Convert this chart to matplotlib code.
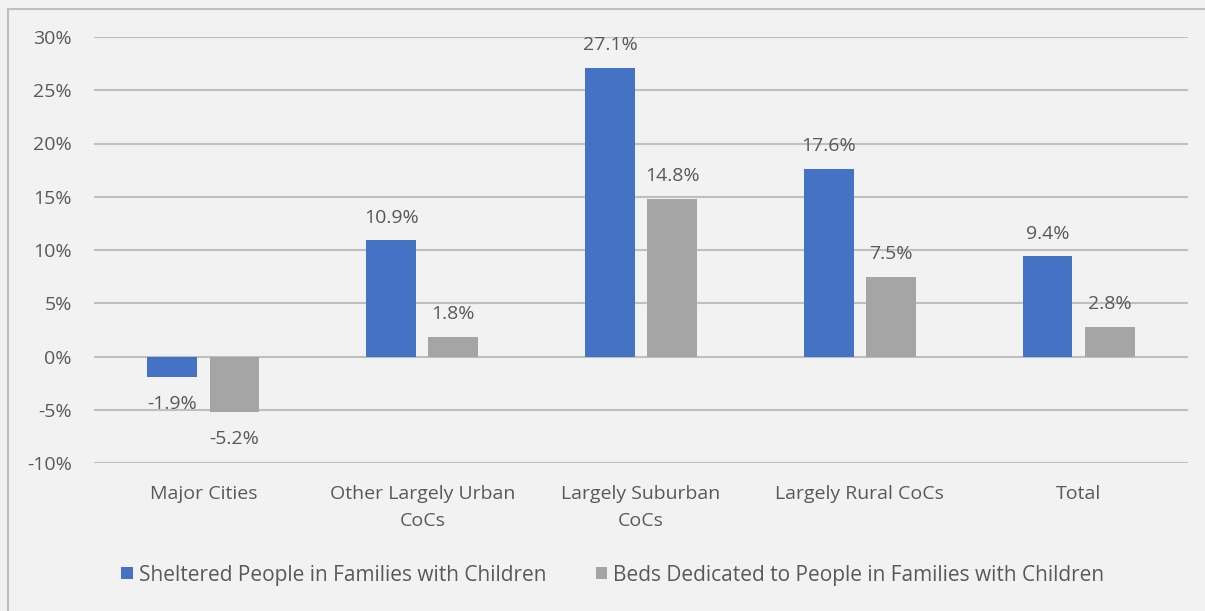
import matplotlib
matplotlib.use("Agg")
import matplotlib.pyplot as plt
import numpy as np
from matplotlib.patches import Rectangle

categories = ["Major Cities", "Other Largely Urban\nCoCs", "Largely Suburban\nCoCs", "Largely Rural CoCs", "Total"]
sheltered = [-1.9, 10.9, 27.1, 17.6, 9.4]
beds = [-5.2, 1.8, 14.8, 7.5, 2.8]
series_names = ["Sheltered People in Families with Children",
                "Beds Dedicated to People in Families with Children"]
yticks = [-10, -5, 0, 5, 10, 15, 20, 25, 30]

plt.rcParams['font.family'] = ['Open Sans', 'DejaVu Sans']
txt = '#595959'
bg = '#f2f2f2'
fs = 14

fig = plt.figure(figsize=(12.05, 6.11), dpi=100, facecolor=bg)
ax = fig.add_axes([94/1205, 1-463/611, (1188-94)/1205, (463-37)/611])
ax.set_facecolor(bg)

x = np.arange(len(categories))
w = 0.228
off = 0.142
b1 = ax.bar(x - off, sheltered, w, color='#4472C4', label=series_names[0], zorder=3)
b2 = ax.bar(x + off, beds, w, color='#A5A5A5', label=series_names[1], zorder=3)

for bars, vals in ((b1, sheltered), (b2, beds)):
    for r, v in zip(bars, vals):
        cx = r.get_x() + r.get_width()/2
        if v >= 0:
            ax.annotate(f"{v:.1f}%", (cx, v), xytext=(0, 10), textcoords='offset points',
                        ha='center', va='bottom', fontsize=fs, color=txt)
        else:
            ax.annotate(f"{v:.1f}%", (cx, v), xytext=(0, -13), textcoords='offset points',
                        ha='center', va='top', fontsize=fs, color=txt)

ax.set_xlim(-0.5, len(categories) - 0.5)
ax.set_ylim(-10, 30)
ax.set_yticks(yticks)
ax.set_yticklabels([f"{t}%" for t in yticks])
ax.set_xticks(x)
ax.set_xticklabels(categories, linespacing=1.6)
ax.tick_params(axis='both', length=0, labelsize=fs, colors=txt)
ax.tick_params(axis='y', pad=16)
ax.tick_params(axis='x', pad=16)
ax.grid(axis='y', color='#bfbfbf', linewidth=1.5, zorder=0)
for s in ax.spines.values():
    s.set_visible(False)

leg = fig.legend(handles=[b1, b2], labels=series_names, loc='center',
                 bbox_to_anchor=(613/1205, 1-575/611), ncol=2, frameon=False,
                 fontsize=15, handlelength=0.55, handleheight=0.55, handletextpad=0.3,
                 columnspacing=2.35, labelcolor=txt)

fig.patches.append(Rectangle((8/1205, -0.05), 1.1, 1-9/611+0.05, transform=fig.transFigure,
                             fill=False, edgecolor='#bfbfbf', linewidth=1.5))

fig.savefig("out.png", dpi=100, facecolor=bg)
